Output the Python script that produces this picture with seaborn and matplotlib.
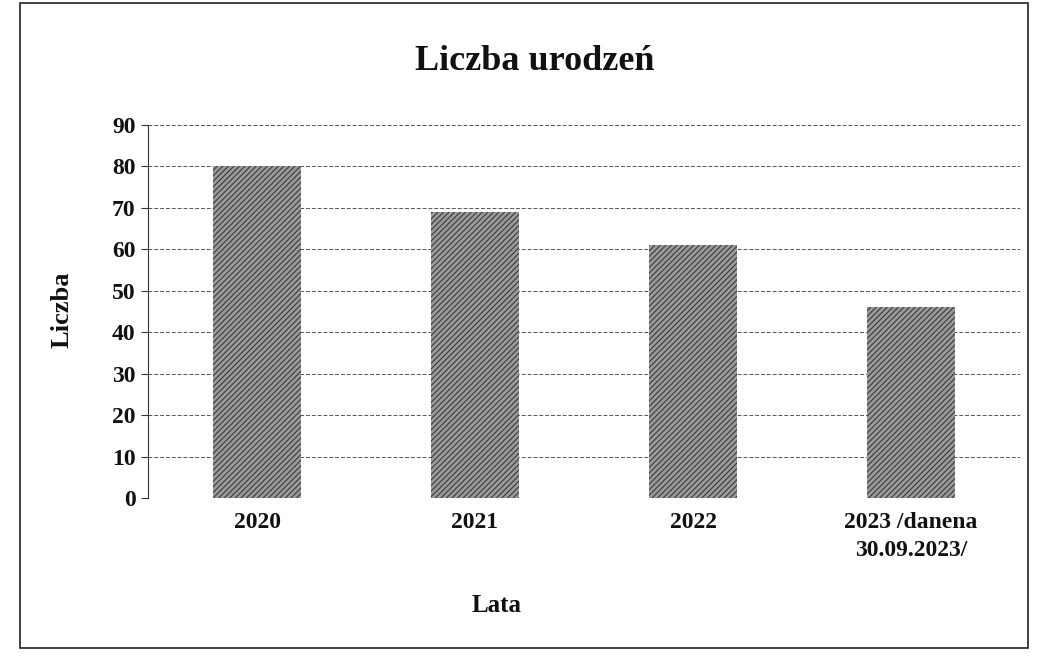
import pandas as pd
import seaborn as sns
import matplotlib.pyplot as plt
from matplotlib.patches import Rectangle

# --- DATA ---
lata = ["2020", "2021", "2022", "2023 /danena\n30.09.2023/"]
liczba = [80, 69, 61, 46]

TITLE = "Liczba urodzeń"
XLABEL = "Lata"
YLABEL = "Liczba"

sns.set_theme(style="white")
plt.rcParams["font.family"] = ["Liberation Serif", "DejaVu Serif"]
plt.rcParams["hatch.linewidth"] = 0.8

df = pd.DataFrame({"Lata": lata, "Liczba": liczba})

fig = plt.figure(figsize=(10.38, 6.56), dpi=100)
ax = fig.add_axes([0.1426, 0.2409, 0.8401, 0.5686])

sns.barplot(data=df, x="Lata", y="Liczba", color="#9a9a9a", width=0.4,
            ax=ax, zorder=3, saturation=1)
for bar in ax.patches:
    bar.set_hatch("//////")
    bar.set_edgecolor("#3a3a3a")
    bar.set_linewidth(0)

ax.set_ylim(0, 90)
ax.set_yticks(range(0, 91, 10))
ax.set_xlim(-0.5, len(lata) - 0.5)
ax.yaxis.grid(True, linestyle=(0, (4, 2)), color="#555555", linewidth=0.7, zorder=0)
ax.set_axisbelow(True)

for side in ["top", "right", "bottom"]:
    ax.spines[side].set_visible(False)
ax.spines["left"].set_color("#333333")
ax.spines["left"].set_linewidth(0.8)
ax.tick_params(axis="y", left=True, length=5, width=0.8, color="#333333",
               labelsize=17, pad=4)
ax.tick_params(axis="x", bottom=False, labelsize=17, pad=4)
for lab in ax.get_xticklabels() + ax.get_yticklabels():
    lab.set_fontweight("bold")
    lab.set_color("#111111")
for lab in ax.get_xticklabels():
    lab.set_linespacing(1.45)

ax.set_xlabel("")
ax.set_ylabel("")
fig.text(0.515, 1 - 62 / 656, TITLE, ha="center", va="center",
         fontsize=26, fontweight="bold", color="#111111")
fig.text(497 / 1038, 1 - 605 / 656, XLABEL, ha="center", va="center",
         fontsize=18, fontweight="bold", color="#111111")
fig.text(62 / 1038, 1 - 310 / 656, YLABEL, ha="center", va="center",
         rotation=90, fontsize=19, fontweight="bold", color="#111111")

# Ramka wokół wykresu
fig.patches.append(Rectangle((20 / 1038, 8 / 656), 1008 / 1038, 645 / 656,
                             transform=fig.transFigure, fill=False,
                             edgecolor="#222222", linewidth=1.2))

fig.savefig("out.png", dpi=100)
